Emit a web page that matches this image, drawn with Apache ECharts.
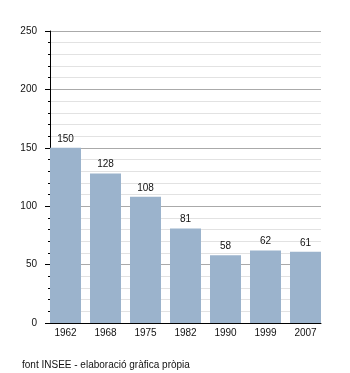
<!DOCTYPE html>
<html>
<head>
<meta charset="utf-8">
<script src="https://cdn.jsdelivr.net/npm/echarts@6/dist/echarts.min.js"></script>
<style>
  html, body { margin: 0; padding: 0; background: #fff; }
  #chart { width: 350px; height: 373px; }
</style>
</head>
<body>
<div id="chart"></div>
<script>
// Population by census year
const years = ['1962', '1968', '1975', '1982', '1990', '1999', '2007'];
const population = [150, 128, 108, 81, 58, 62, 61];
const yTicks = [0, 50, 100, 150, 200, 250];
const sourceNote = 'font INSEE - elaboració gràfica pròpia';

const FONT = '"Liberation Sans", Arial, Helvetica, sans-serif';
const yMin = yTicks[0];
const yMax = yTicks[yTicks.length - 1];
const yStep = yTicks[1] - yTicks[0];

const chart = echarts.init(document.getElementById('chart'), null, { renderer: 'canvas' });

chart.setOption({
  animation: false,
  backgroundColor: '#ffffff',
  textStyle: { fontFamily: FONT },
  grid: [
    // frame: axes and gridlines
    { left: 50, right: 29, top: 31, bottom: 50 },
    // bars: slightly wider so the outer bars sit flush with the frame
    { left: 45.5, right: 24.5, top: 31, bottom: 50 }
  ],
  xAxis: [
    {
      gridIndex: 0, type: 'value', min: 0, max: 1,
      axisLine: { show: true, lineStyle: { color: '#000', width: 1 } },
      axisTick: { show: false }, axisLabel: { show: false }, splitLine: { show: false }
    },
    {
      gridIndex: 1, type: 'category', data: years,
      axisLine: { show: false }, axisTick: { show: false },
      axisLabel: { color: '#111', fontSize: 10, margin: 5, fontFamily: FONT }
    }
  ],
  yAxis: [
    {
      gridIndex: 0, type: 'value', min: yMin, max: yMax, interval: yStep,
      axisLine: { show: true, lineStyle: { color: '#000', width: 1 } },
      axisTick: { show: true, length: 5, lineStyle: { color: '#000' } },
      minorTick: { show: true, splitNumber: 5, length: 2, lineStyle: { color: '#000' } },
      axisLabel: { color: '#111', fontSize: 10, margin: 13, fontFamily: FONT },
      splitLine: { show: true, lineStyle: { color: '#aaaaaa', width: 1 } },
      minorSplitLine: { show: true, lineStyle: { color: '#e2e2e2', width: 1 } }
    },
    {
      gridIndex: 1, type: 'value', min: yMin, max: yMax, show: false,
      splitLine: { show: false }
    }
  ],
  series: [
    {
      type: 'bar',
      xAxisIndex: 1, yAxisIndex: 1,
      data: population,
      barWidth: 31,
      itemStyle: { color: '#9bb3cc' },
      label: {
        show: true, position: 'top', distance: 4,
        color: '#111', fontSize: 10, fontFamily: FONT
      }
    }
  ],
  graphic: [
    {
      type: 'text', left: 22, top: 360,
      style: { text: sourceNote, fill: '#111', font: '10px ' + FONT }
    }
  ]
});
</script>
</body>
</html>
